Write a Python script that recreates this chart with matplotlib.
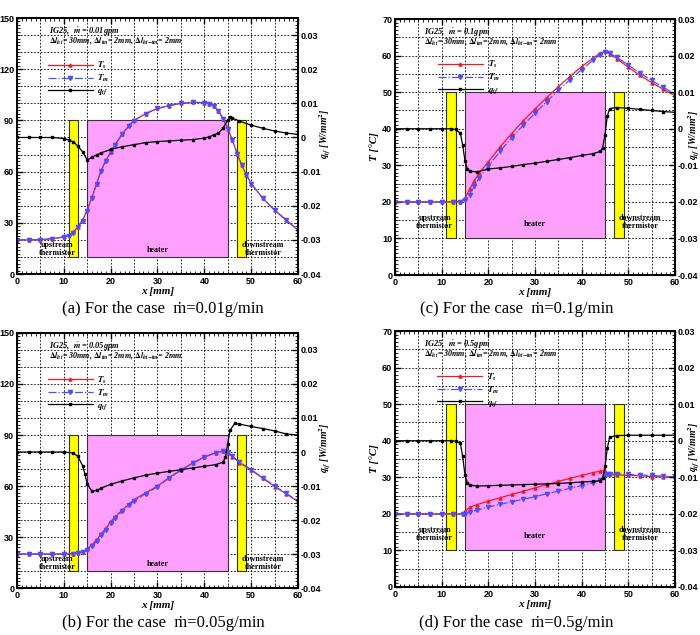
import matplotlib
matplotlib.use('Agg')
import matplotlib.pyplot as plt
from matplotlib.patches import Rectangle
from matplotlib.ticker import MultipleLocator, FuncFormatter
import numpy as np

plt.rcParams['font.family'] = ['Liberation Sans', 'DejaVu Sans']
plt.rcParams['font.weight'] = 'bold'
plt.rcParams['mathtext.fontset'] = 'stix'
plt.rcParams['axes.unicode_minus'] = False

# ---- (a) m = 0.01 g/min ----
xT_a = [0, 2.5, 5, 7.5, 10, 11, 12, 13, 14, 15, 16, 17, 18, 19, 20, 21, 22.5, 24, 25,
        27.5, 30, 32.5, 35, 37.5, 40, 41, 42, 43, 44, 45, 46, 47, 48, 49, 50, 52.5, 55, 57.5, 60]
Ts_a = [20, 20, 20.1, 20.7, 21.8, 22.6, 24.4, 27.7, 31.6, 37.4, 45, 53, 61, 66.7, 71.6, 76, 82.3,
        87.2, 90, 94, 97, 98.7, 100, 100.6, 100.4, 99.9, 98.3, 95.6, 91, 85.2, 78.4, 70.6, 63.8,
        57.9, 53, 44.3, 37.4, 31.6, 25.7]
Tm_a = [20, 20, 20.1, 20.6, 21.7, 22.5, 24.2, 27.4, 31.3, 37, 44.6, 52.6, 60.6, 66.4, 71.3, 75.8,
        82.1, 87, 89.9, 94, 97, 98.7, 100, 100.6, 100.4, 99.9, 98.3, 95.6, 91, 85.2, 78.4, 70.6,
        63.8, 57.9, 53, 44.3, 37.4, 31.6, 25.7]
xq_a = [0, 2.5, 5, 7.5, 10, 11, 12, 13, 14, 15, 16, 17, 18, 20, 22.5, 25, 27.5, 30, 32.5, 35,
        37.5, 40, 41, 42, 43, 44, 45, 45.5, 46, 47.5, 50, 52.5, 55, 57.5, 60]
q_a = [0, 0, 0, 0, -0.0003, -0.0007, -0.0013, -0.0025, -0.0042, -0.0066, -0.0058, -0.0051,
       -0.0045, -0.0035, -0.0027, -0.0021, -0.0015, -0.0012, -0.001, -0.0008, -0.0006, -0.0002,
       0.0002, 0.0007, 0.0013, 0.0027, 0.0052, 0.0059, 0.0057, 0.0048, 0.0036, 0.0027, 0.0019,
       0.0013, 0.0009]

# ---- (b) m = 0.05 g/min ----
xT_b = [0, 2.5, 5, 7.5, 10, 12, 13, 14, 15, 16, 17, 18, 19, 20, 21, 22.5, 24, 25, 27.5, 30,
        32.5, 35, 37.5, 40, 42.5, 44, 45, 46, 47.5, 50, 52.5, 55, 57.5, 60]
Ts_b = [20, 20, 20, 20, 20, 20.2, 20.5, 21.2, 22.9, 25.4, 28.4, 31.9, 35.2, 39.1, 42, 46, 49.5,
        52, 56, 60, 65, 69.5, 73.5, 77, 79.6, 80.4, 79.6, 77.3, 73.7, 69.4, 64.5, 59.7, 55.3, 50.9]
Tm_b = [20, 20, 20, 20, 20, 20.1, 20.4, 21, 22.4, 24.6, 27.5, 30.9, 34.2, 38.1, 41.1, 45.2,
        48.8, 51.3, 55.5, 59.6, 64.7, 69.3, 73.4, 77, 79.7, 80.5, 79.8, 77.6, 74, 69.7, 64.8,
        60, 55.6, 51.2]
xq_b = [0, 2.5, 5, 7.5, 10, 12, 13, 14, 14.5, 15, 16, 17, 18, 20, 22.5, 25, 27.5, 30, 32.5, 35,
        37.5, 40, 42.5, 44, 44.5, 45, 45.5, 46.5, 47.5, 50, 52.5, 55, 57.5, 60]
q_b = [0, 0, 0, 0, 0, -0.0003, -0.0013, -0.004, -0.0065, -0.0095, -0.0115, -0.0113, -0.0106,
       -0.0095, -0.0085, -0.0076, -0.0068, -0.0062, -0.0057, -0.0052, -0.0047, -0.0042, -0.0037,
       -0.003, -0.0015, 0.0025, 0.0064, 0.0084, 0.0082, 0.0075, 0.0069, 0.0062, 0.0053, 0.005]

# ---- (c) m = 0.1 g/min ----
xT_c = [0, 2.5, 5, 7.5, 10, 12.5, 14, 15, 16, 17, 18, 20, 22.5, 25, 27.5, 30, 32.5, 35, 37.5,
        40, 42.5, 44, 45, 46, 47.5, 50, 52.5, 55, 57.5, 60]
Ts_c = [20, 20, 20, 20, 20, 20, 20.1, 21, 23.5, 25.8, 27.8, 31, 35, 38.7, 42.2, 45.4, 48.5,
        51.5, 54.3, 57, 59.4, 60.7, 61.2, 60.4, 59.2, 56.8, 54.6, 52.6, 50.8, 49]
Tm_c = [20, 20, 20, 20, 20, 20, 20, 20.4, 22, 24.3, 26.5, 29.8, 33.8, 37.5, 41, 44.3, 47.4,
        50.5, 53.4, 56.2, 58.8, 60.3, 61, 60.6, 59.6, 57.4, 55.2, 53.2, 51.3, 49.5]
xq_c = [0, 2.5, 5, 7.5, 10, 12, 13, 14, 14.5, 15, 15.5, 16, 17.5, 20, 22.5, 25, 27.5, 30, 32.5,
        35, 37.5, 40, 42.5, 44, 44.5, 45, 45.5, 46, 47.5, 50, 52.5, 55, 57.5, 60]
q_c = [0, 0, 0, 0, 0, 0, -0.0002, -0.0012, -0.0045, -0.0088, -0.011, -0.0116, -0.0118, -0.011,
       -0.0107, -0.0103, -0.0098, -0.0094, -0.0089, -0.0084, -0.0079, -0.0073, -0.0068, -0.0062,
       -0.0052, -0.0016, 0.0035, 0.0055, 0.0058, 0.0056, 0.0053, 0.005, 0.0047, 0.0045]

# ---- (d) m = 0.5 g/min ----
xT_d = [0, 2.5, 5, 7.5, 10, 12.5, 14.5, 15, 16, 17.5, 20, 22.5, 25, 27.5, 30, 32.5, 35, 37.5,
        40, 42.5, 44, 45, 45.5, 46, 47.5, 50, 52.5, 55, 57.5, 60]
Ts_d = [20, 20, 20, 20, 20, 20, 20, 20.7, 21.8, 22.5, 23.5, 24.4, 25.3, 26.2, 27.1, 28, 28.9,
        29.7, 30.5, 31.3, 31.7, 31.8, 30.9, 30.8, 30.7, 30.5, 30.4, 30.2, 30.1, 30]
Tm_d = [20, 20, 20, 20, 20, 20, 20, 20, 20.4, 21, 21.9, 22.6, 23.3, 24, 24.7, 25.5, 26.2, 27,
        27.7, 28.5, 29.2, 30.6, 31, 31, 30.9, 30.8, 30.6, 30.5, 30.3, 30.1]
xq_d = [0, 2.5, 5, 7.5, 10, 12, 13, 14, 14.5, 15, 15.5, 16, 17.5, 20, 22.5, 25, 27.5, 30, 32.5,
        35, 37.5, 40, 42.5, 44, 44.5, 45, 45.5, 46, 47.5, 50, 52.5, 55, 57.5, 60]
q_d = [0, 0, 0, 0, 0, 0, -0.0001, -0.0007, -0.0043, -0.0095, -0.0115, -0.0121, -0.0124,
       -0.0123, -0.0122, -0.0121, -0.012, -0.0119, -0.0118, -0.0117, -0.0115, -0.0113, -0.0111,
       -0.0109, -0.0102, -0.007, -0.002, 0.001, 0.0014, 0.0015, 0.0015, 0.0015, 0.0015, 0.0015]

flows = ['0.01', '0.05', '0.1', '0.5']
captions = ['(a) For the case  ṁ=0.01g/min',
            '(b) For the case  ṁ=0.05g/min',
            '(c) For the case  ṁ=0.1g/min',
            '(d) For the case  ṁ=0.5g/min']

SERIF = ['Liberation Serif', 'DejaVu Serif']


def qfmt(v, pos):
    return f'{round(v, 3) + 0.0:g}'


def draw_panel(fig, rect, xT, Ts, Tm, xq, q, flow, tmax, qmax, tgrid, tmajor, tminor,
               box_top, txt_x, leg_x, leg_y, qlab_x):
    ax = fig.add_axes(rect)
    ax.set_xlim(0, 60)
    ax.set_ylim(0, tmax)

    for xv in np.arange(5, 60, 5):
        ax.axvline(xv, color='k', lw=0.6, ls=(0, (2, 2)), zorder=0)
    for yv in np.arange(tgrid, tmax, tgrid):
        ax.axhline(yv, color='k', lw=0.6, ls=(0, (2, 2)), zorder=0)

    # thermistors and heater
    ax.add_patch(Rectangle((11, 10), 2, box_top - 10, fc='#ffff00', ec='#333300', lw=0.8, zorder=1))
    ax.add_patch(Rectangle((15, 10), 30, box_top - 10, fc='#ffa0ff', ec='#333333', lw=0.8, zorder=1))
    ax.add_patch(Rectangle((47, 10), 2, box_top - 10, fc='#ffff00', ec='#333300', lw=0.8, zorder=1))
    ax.text(8.5, 14.5, 'upstream\nthermistor', ha='center', va='center', family=SERIF,
            weight='bold', size=5.8, linespacing=1.0, zorder=2)
    ax.text(30, 14, 'heater', ha='center', va='center', family=SERIF, weight='bold', size=5.8,
            zorder=2)
    ax.text(52.5, 14.5, 'downstream\nthermistor', ha='center', va='center', family=SERIF,
            weight='bold', size=5.8, linespacing=1.0, zorder=2)

    l1, = ax.plot(xT, Ts, color='#ee1c24', lw=0.9, marker='^', ms=2.2, zorder=3)
    l2, = ax.plot(xT, Tm, color='#4d4dff', lw=0.9, ls='-.', marker='v', ms=3, zorder=4)

    ax2 = ax.twinx()
    ax2.set_ylim(-0.04, qmax)
    l3, = ax2.plot(xq, q, color='k', lw=0.9, marker='s', ms=1.8)

    ax.xaxis.set_major_locator(MultipleLocator(10))
    ax.xaxis.set_minor_locator(MultipleLocator(1))
    ax.yaxis.set_major_locator(MultipleLocator(tmajor))
    ax.yaxis.set_minor_locator(MultipleLocator(tminor))
    ax2.yaxis.set_major_locator(MultipleLocator(0.01))
    ax2.yaxis.set_minor_locator(MultipleLocator(0.001))
    ax2.yaxis.set_major_formatter(FuncFormatter(qfmt))

    ax.tick_params(which='both', direction='in', top=True, right=False, labelsize=6.5, pad=2)
    ax.tick_params(which='major', length=4, width=1)
    ax.tick_params(which='minor', length=2, width=0.6)
    ax2.tick_params(which='both', direction='in', labelsize=6.5, pad=2)
    ax2.tick_params(which='major', length=4, width=1)
    ax2.tick_params(which='minor', length=2, width=0.6)
    for a in (ax, ax2):
        for s in a.spines.values():
            s.set_linewidth(1.4)

    ax.set_xlabel('x [mm]', family=SERIF, weight='bold', style='italic', size=8, labelpad=1)
    ax.set_ylabel('T [°C]', family=SERIF, weight='bold', style='italic', size=8, labelpad=2)
    ax2.set_ylabel('$q_{tf}$ [W/mm$^2$]', family=SERIF, weight='bold', style='italic', size=7,
                   rotation=90)
    ax2.yaxis.set_label_coords(qlab_x, 0.55)

    ax2.text(txt_x, 0.945, 'IG25,  $\\dot{m}$ = ' + flow + 'gpm', transform=ax.transAxes,
             family=SERIF, weight='bold', style='italic', size=6, va='center')
    ax2.text(txt_x, 0.909,
             '$\\Delta l_{ht}$= 30mm, $\\Delta l_{tm}$= 2mm, $\\Delta l_{ht\\mathrm{-}tm}$= 2mm',
             transform=ax.transAxes, family=SERIF, weight='bold', style='italic', size=5.8,
             va='center')
    ax2.legend([l1, l2, l3], ['$T_s$', '$T_m$', '$q_{tf}$'], loc='upper left',
               bbox_to_anchor=(leg_x, leg_y), frameon=False, fontsize=6.5, borderpad=0,
               handlelength=5.0, handletextpad=0.5, labelspacing=0.2)
    return ax


fig = plt.figure(figsize=(7, 6.35), dpi=100)

draw_panel(fig, [0.0243, 0.5685, 0.4014, 0.4031], xT_a, Ts_a, Tm_a, xq_a, q_a, flows[0],
           150, 0.035, 10, 30, 2, 90, 0.113, 0.093, 0.855, 1.066)
draw_panel(fig, [0.0243, 0.0740, 0.4014, 0.4016], xT_b, Ts_b, Tm_b, xq_b, q_b, flows[1],
           150, 0.035, 10, 30, 2, 90, 0.113, 0.093, 0.855, 1.066)
draw_panel(fig, [0.5643, 0.5669, 0.4000, 0.4031], xT_c, Ts_c, Tm_c, xq_c, q_c, flows[2],
           70, 0.03, 5, 10, 1, 50, 0.103, 0.137, 0.862, 1.04)
draw_panel(fig, [0.5643, 0.0756, 0.4000, 0.4031], xT_d, Ts_d, Tm_d, xq_d, q_d, flows[3],
           70, 0.03, 5, 10, 1, 50, 0.103, 0.135, 0.86, 1.04)

cap_pos = [(0.233, 0.513), (0.233, 0.019), (0.738, 0.513), (0.738, 0.019)]
for i in range(4):
    fig.text(cap_pos[i][0], cap_pos[i][1], captions[i], ha='center', va='center',
             family=SERIF, weight='normal', size=12)

fig.savefig('out.png', dpi=100)
